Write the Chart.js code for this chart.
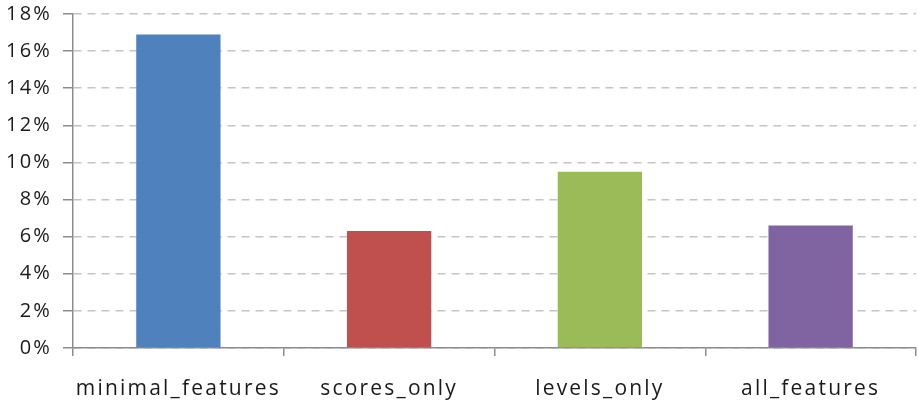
<!DOCTYPE html>
<html lang="en">
<head>
  <title>Feature sets</title>
  <meta charset="utf-8">
  <script src="https://cdn.jsdelivr.net/npm/chart.js"></script>
  <style>
    body { margin: 0; background: #fff; }
    .chart-container { width: 918px; height: 403px; }
  </style>
</head>
<body>
<div class="chart-container">
  <canvas id="feature-chart"></canvas>
</div>
<script>
  const categories = ['minimal_features', 'scores_only', 'levels_only', 'all_features'];
  const values = [16.9, 6.3, 9.5, 6.6];
  const barColors = ['#4F81BD', '#C0504D', '#9BBB59', '#8064A2'];
  const yTicks = [0, 2, 4, 6, 8, 10, 12, 14, 16, 18];

  // excel-ish text is a bit loose, canvas state is reset on resize so set it each draw
  const looseText = {
    id: 'looseText',
    beforeDraw: (chart) => {
      chart.ctx.letterSpacing = '2.2px';
    }
  };

  new Chart(document.getElementById('feature-chart'), {
    type: 'bar',
    data: {
      labels: categories,
      datasets: [{
        data: values,
        backgroundColor: barColors,
        borderWidth: 0,
        barPercentage: 0.4,
        categoryPercentage: 1,
      }]
    },
    options: {
      responsive: true,
      maintainAspectRatio: false,
      animation: false,
      layout: {
        padding: { top: 14, right: 2, left: 0, bottom: 0 }
      },
      plugins: {
        legend: { display: false },
        tooltip: { enabled: false },
      },
      scales: {
        x: {
          afterFit: (scale) => { scale.height = 55; },
          grid: {
            offset: true,
            drawOnChartArea: false,
            tickLength: 8,
            color: '#8c8c8c',
            lineWidth: 1.5,
          },
          border: { color: '#8c8c8c', width: 1.5 },
          ticks: {
            padding: 20,
            color: '#1a1a1a',
            maxRotation: 0,
            font: { family: '"Open Sans", sans-serif', size: 21 }
          }
        },
        y: {
          min: 0,
          max: 18,
          afterFit: (scale) => {
            scale.width = 73;
            scale.paddingTop = 0;
            scale.paddingBottom = 0;
          },
          afterBuildTicks: (scale) => {
            scale.ticks = yTicks.map(v => ({ value: v }));
          },
          grid: {
            color: '#c4c4c4',
            lineWidth: 1.5,
            tickLength: 10,
            tickColor: '#8c8c8c',
            tickBorderDash: [],
          },
          border: { color: '#8c8c8c', width: 1.5, dash: [8, 6] },
          ticks: {
            padding: 11,
            color: '#1a1a1a',
            font: { family: '"Open Sans", sans-serif', size: 20 },
            callback: (v) => v + '%'
          }
        }
      }
    },
    plugins: [looseText]
  });
</script>
</body>
</html>
